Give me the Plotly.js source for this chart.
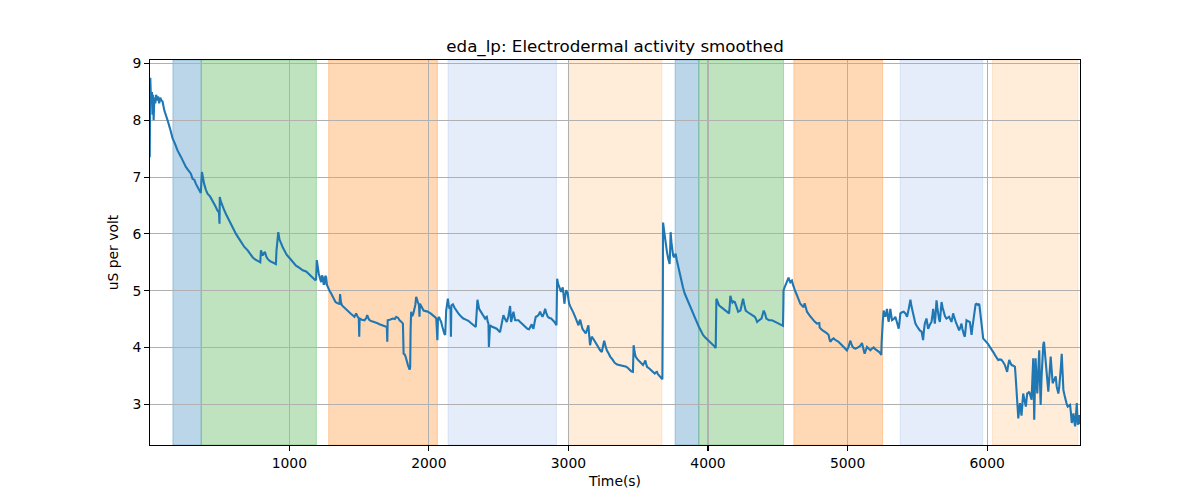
<!DOCTYPE html>
<html>
<head>
<meta charset="utf-8">
<script src="https://cdn.plot.ly/plotly-3.0.1.min.js"></script>
<style>html,body{margin:0;padding:0;background:#fff;}#chart{width:1200px;height:500px;}</style>
</head>
<body>
<div id="chart"></div>
<script>
// ---- data ----
var timeS = [0,4,8,12,16,20,24,28,33,40,46,52,60,68,75,84,92,104,116,128,146,164,182,199,223,240,259,277,295,307,320,331,345,362,366,374,382,390,402,414,432,450,468,486,496,500,502,508,515,530,546,564,582,600,618,636,654,678,702,720,737,755,773,792,797,803,809,818,826,835,845,862,880,895,904,908,921,930,940,952,964,982,1000,1024,1048,1073,1096,1121,1140,1156,1172,1185,1192,1197,1204,1211,1220,1228,1234,1240,1246,1252,1258,1264,1270,1276,1288,1300,1316,1331,1346,1360,1364,1370,1378,1398,1419,1443,1467,1473,1479,1490,1498,1501,1504,1520,1539,1552,1558,1566,1575,1592,1610,1628,1646,1664,1682,1699,1702,1705,1720,1742,1756,1766,1780,1790,1804,1814,1819,1826,1833,1842,1850,1862,1866,1869,1873,1879,1885,1891,1897,1903,1909,1915,1921,1929,1933,1936,1945,1962,1978,1993,2012,2029,2042,2053,2057,2061,2065,2072,2080,2088,2097,2105,2111,2117,2121,2124,2130,2136,2142,2148,2155,2158,2161,2172,2184,2199,2211,2229,2247,2265,2283,2301,2319,2336,2348,2354,2360,2370,2379,2391,2403,2409,2415,2422,2427,2430,2433,2438,2450,2462,2474,2486,2498,2510,2522,2534,2546,2558,2570,2582,2589,2597,2606,2612,2618,2630,2642,2654,2666,2680,2694,2706,2718,2728,2737,2743,2749,2758,2766,2775,2785,2791,2797,2805,2814,2824,2833,2842,2852,2864,2876,2888,2900,2914,2917,2919,2926,2933,2940,2947,2953,2959,2965,2971,2977,2983,2989,2995,3000,3005,3014,3024,3036,3048,3060,3072,3078,3084,3092,3100,3112,3124,3134,3143,3149,3155,3161,3167,3179,3191,3203,3215,3227,3239,3248,3256,3265,3275,3287,3299,3315,3331,3349,3367,3385,3403,3415,3426,3438,3450,3462,3465,3467,3474,3481,3495,3510,3522,3534,3543,3551,3557,3563,3579,3594,3606,3618,3626,3634,3641,3649,3658,3666,3673,3676,3678,3684,3689,3697,3706,3715,3725,3729,3732,3738,3744,3750,3756,3762,3768,3776,3785,3797,3809,3821,3833,3851,3869,3886,3904,3920,3935,3950,3964,3982,4000,4018,4036,4046,4055,4058,4060,4070,4079,4094,4108,4122,4137,4145,4151,4156,4160,4168,4175,4183,4192,4204,4216,4225,4232,4242,4251,4260,4270,4285,4299,4317,4335,4344,4352,4362,4371,4377,4383,4391,4399,4408,4418,4437,4458,4482,4505,4529,4537,4540,4541,4547,4553,4559,4565,4571,4577,4583,4589,4595,4601,4607,4613,4625,4637,4649,4661,4673,4685,4692,4700,4709,4726,4744,4762,4780,4790,4797,4800,4804,4812,4821,4830,4840,4852,4864,4870,4876,4888,4900,4908,4916,4926,4935,4947,4959,4977,4995,5008,5019,5028,5036,5046,5055,5067,5079,5091,5103,5113,5122,5130,5139,5151,5163,5175,5187,5198,5210,5220,5227,5236,5241,5244,5246,5252,5258,5264,5270,5276,5282,5288,5294,5300,5306,5312,5318,5330,5342,5354,5366,5372,5378,5390,5402,5414,5426,5438,5450,5458,5467,5476,5486,5498,5510,5517,5530,5541,5547,5553,5565,5571,5577,5589,5601,5607,5613,5619,5625,5631,5637,5643,5649,5655,5661,5667,5673,5681,5689,5698,5708,5718,5727,5735,5744,5750,5756,5762,5768,5776,5785,5792,5799,5808,5816,5822,5828,5834,5840,5846,5852,5864,5876,5882,5888,5894,5900,5906,5911,5917,5923,5933,5943,5948,5952,5956,5959,5965,5971,5983,5995,6007,6019,6028,6038,6046,6055,6067,6079,6091,6103,6115,6127,6135,6143,6150,6158,6166,6175,6187,6199,6205,6211,6217,6223,6229,6235,6241,6246,6252,6258,6267,6277,6282,6287,6294,6301,6310,6318,6324,6330,6334,6337,6342,6347,6352,6359,6366,6373,6378,6383,6390,6397,6402,6407,6413,6419,6426,6432,6438,6446,6455,6462,6469,6480,6491,6498,6504,6510,6516,6522,6528,6534,6540,6546,6555,6563,6570,6577,6585,6594,6600,6606,6612,6618,6624,6630,6636,6642,6646,6649,6655,6661,6664];
var edaValues = [7.35,8.75,8.45,8.3,8.5,8.1,8.45,8.0,8.4,8.3,8.45,8.35,8.42,8.3,8.4,8.35,8.33,8.18,8.1,8.0,7.85,7.68,7.58,7.47,7.36,7.26,7.18,7.12,7.06,6.97,6.95,6.88,6.82,6.74,6.72,7.09,6.95,6.88,6.78,6.71,6.66,6.59,6.5,6.41,6.38,6.18,6.65,6.58,6.53,6.44,6.35,6.26,6.18,6.08,6.0,5.93,5.85,5.77,5.71,5.64,5.59,5.55,5.52,5.5,5.71,5.64,5.62,5.66,5.68,5.6,5.56,5.52,5.5,5.48,5.47,5.7,6.03,5.9,5.83,5.77,5.71,5.63,5.58,5.5,5.44,5.4,5.36,5.34,5.3,5.27,5.22,5.19,5.2,5.54,5.4,5.3,5.22,5.15,5.27,5.24,5.12,5.12,5.26,5.24,5.1,5.06,5.0,4.95,4.87,4.8,4.78,4.77,4.94,4.8,4.74,4.69,4.65,4.59,4.54,4.58,4.6,4.54,4.51,4.19,4.51,4.49,4.48,4.52,4.57,4.52,4.48,4.46,4.45,4.43,4.41,4.39,4.37,4.36,4.1,4.48,4.49,4.51,4.5,4.54,4.52,4.48,4.45,4.42,3.89,3.88,3.84,3.74,3.69,3.61,3.65,4.3,4.63,4.55,4.57,4.62,4.68,4.75,4.89,4.82,4.8,4.75,4.54,4.77,4.72,4.65,4.64,4.63,4.6,4.57,4.54,4.51,4.36,4.13,4.5,4.54,4.49,4.45,4.36,4.27,4.24,4.22,4.5,4.65,4.75,4.86,4.75,4.68,4.7,4.19,4.74,4.76,4.7,4.63,4.6,4.55,4.51,4.49,4.47,4.43,4.39,4.36,4.84,4.74,4.68,4.64,4.6,4.55,4.51,4.53,4.54,4.45,4.42,4.01,4.39,4.39,4.37,4.36,4.35,4.33,4.3,4.27,4.42,4.57,4.5,4.45,4.55,4.73,4.45,4.55,4.63,4.55,4.48,4.48,4.48,4.45,4.42,4.38,4.35,4.33,4.32,4.37,4.41,4.36,4.33,4.45,4.54,4.55,4.57,4.6,4.63,4.58,4.54,4.6,4.68,4.6,4.54,4.52,4.51,4.48,4.45,4.39,4.9,5.21,5.12,5.06,5.02,4.98,5.02,5.06,4.92,4.77,4.9,5.01,4.98,4.95,4.85,4.77,4.72,4.68,4.61,4.54,4.47,4.39,4.45,4.49,4.41,4.33,4.29,4.25,4.32,4.39,4.2,4.04,4.12,4.19,4.15,4.1,4.04,3.98,3.95,3.92,4.02,4.12,4.03,3.95,3.9,3.84,3.79,3.73,3.7,3.69,3.69,3.68,3.66,3.64,3.61,3.58,3.57,3.8,4.04,3.92,3.84,3.79,3.75,3.72,3.69,3.73,3.77,3.71,3.66,3.63,3.6,3.57,3.54,3.56,3.57,3.53,3.51,3.49,3.47,3.44,4.8,6.2,6.08,5.97,5.82,5.68,5.56,5.47,5.75,6.03,5.85,5.68,5.62,5.59,5.63,5.65,5.54,5.44,5.3,5.15,5.05,4.95,4.84,4.74,4.64,4.54,4.45,4.36,4.29,4.22,4.17,4.13,4.09,4.05,4.02,3.99,4.5,4.86,4.8,4.74,4.71,4.68,4.66,4.63,4.61,4.6,4.75,4.91,4.84,4.79,4.81,4.8,4.72,4.63,4.64,4.65,4.76,4.86,4.75,4.65,4.62,4.6,4.57,4.54,4.5,4.45,4.47,4.48,4.5,4.51,4.58,4.65,4.6,4.51,4.48,4.48,4.45,4.42,4.39,4.38,4.8,5.01,5.05,5.09,5.1,5.15,5.2,5.23,5.18,5.15,5.17,5.18,5.12,5.06,4.99,4.92,4.85,4.77,4.74,4.71,4.78,4.7,4.63,4.57,4.51,4.46,4.42,4.42,4.43,4.35,4.33,4.32,4.3,4.28,4.27,4.25,4.22,4.15,4.1,4.14,4.16,4.14,4.13,4.11,4.1,4.07,4.04,3.99,3.95,4.02,4.12,4.06,4.01,3.99,3.98,3.99,4.01,4.03,4.08,3.95,3.89,3.95,4.01,3.98,3.95,3.98,4.0,3.97,3.95,3.93,3.92,3.89,3.87,4.1,4.25,4.45,4.65,4.58,4.54,4.6,4.68,4.55,4.45,4.55,4.68,4.58,4.48,4.5,4.54,4.44,4.33,4.45,4.6,4.62,4.63,4.6,4.54,4.68,4.84,4.72,4.6,4.5,4.42,4.37,4.33,4.3,4.28,4.13,4.3,4.42,4.51,4.42,4.33,4.4,4.45,4.55,4.68,4.55,4.42,4.6,4.83,4.7,4.54,4.5,4.45,4.6,4.8,4.7,4.6,4.55,4.51,4.53,4.54,4.5,4.45,4.52,4.6,4.55,4.48,4.44,4.39,4.35,4.3,4.36,4.42,4.33,4.25,4.22,4.19,4.33,4.48,4.46,4.45,4.34,4.22,4.35,4.48,4.6,4.74,4.76,4.77,4.75,4.77,4.68,4.57,4.5,4.45,4.3,4.16,4.13,4.1,4.06,4.01,3.98,3.95,3.91,3.87,3.82,3.78,3.79,3.78,3.74,3.69,3.63,3.57,3.68,3.78,3.73,3.69,3.68,3.66,3.45,3.25,3.0,2.75,2.9,3.02,2.9,2.8,3.0,3.19,3.08,2.96,3.08,3.19,3.2,3.22,3.15,3.08,3.45,3.81,3.2,2.73,3.3,3.81,3.5,3.19,3.6,3.95,3.4,2.99,3.5,4.01,4.05,4.1,3.95,3.78,3.51,3.35,3.22,3.5,3.84,3.6,3.37,3.43,3.49,3.31,3.25,3.19,3.3,3.43,3.65,3.89,3.55,3.25,3.15,3.05,3.0,2.96,2.98,2.99,2.85,2.67,2.75,2.84,2.7,2.61,2.8,3.02,2.8,2.64,2.7,2.81,2.65];

// experiment phases (seconds)
var phaseStart = [166, 369, 1282, 2137, 3000, 3764, 3934, 4615, 5377, 6037];
var phaseEnd   = [369, 1194, 2061, 2914, 3669, 3934, 4541, 5251, 5968, 6649];
var phaseKind  = ['a', 'b', 'c', 'd', 'e', 'a', 'b', 'c', 'd', 'e'];

var xTicks = [1000, 2000, 3000, 4000, 5000, 6000];
var yTicks = [3, 4, 5, 6, 7, 8, 9];

// ---- styles ----
var phaseColor = {
  a: 'rgba(31,119,180,0.3)',
  b: 'rgba(44,160,44,0.3)',
  c: 'rgba(255,127,14,0.3)',
  d: 'rgba(90,140,215,0.16)',
  e: 'rgba(255,140,30,0.17)'
};

var shapes = phaseStart.map(function (s, i) {
  var c = phaseColor[phaseKind[i]];
  return {
    type: 'rect', xref: 'x', yref: 'paper',
    x0: s, x1: phaseEnd[i], y0: 0, y1: 1,
    fillcolor: c, line: {color: c, width: 1}, layer: 'below'
  };
});

var font = 'DejaVu Sans, sans-serif';

var trace = {
  x: timeS, y: edaValues, type: 'scatter', mode: 'lines',
  line: {color: '#1f77b4', width: 2.1}, hoverinfo: 'skip'
};

var axisCommon = {
  showline: true, mirror: true, linecolor: '#000', linewidth: 1.1,
  ticks: 'outside', ticklen: 4.9, tickwidth: 1.1, tickcolor: '#000',
  showgrid: true, gridcolor: '#b0b0b0', gridwidth: 1.1,
  zeroline: false, tickfont: {family: font, size: 13.9, color: '#000'}
};

var layout = {
  width: 1200, height: 500,
  margin: {l: 150, r: 120, t: 60, b: 55},
  paper_bgcolor: '#fff', plot_bgcolor: '#fff',
  showlegend: false,
  title: {text: 'eda_lp: Electrodermal activity smoothed', font: {family: font, size: 16.7, color: '#000'},
          x: 0.5125, xanchor: 'center', y: 0.908, yanchor: 'middle', yref: 'container'},
  xaxis: Object.assign({}, axisCommon, {
    range: [2, 6665], tickvals: xTicks, ticktext: xTicks.map(String),
    title: {text: 'Time(s)', font: {family: font, size: 13.9, color: '#000'}, standoff: 6}
  }),
  yaxis: Object.assign({}, axisCommon, {
    range: [2.283, 9.062], tickvals: yTicks, ticktext: yTicks.map(String),
    title: {text: 'uS per volt', font: {family: font, size: 13.9, color: '#000'}, standoff: 10}
  }),
  shapes: shapes
};

Plotly.newPlot('chart', [trace], layout, {staticPlot: true, displayModeBar: false});
</script>
</body>
</html>
